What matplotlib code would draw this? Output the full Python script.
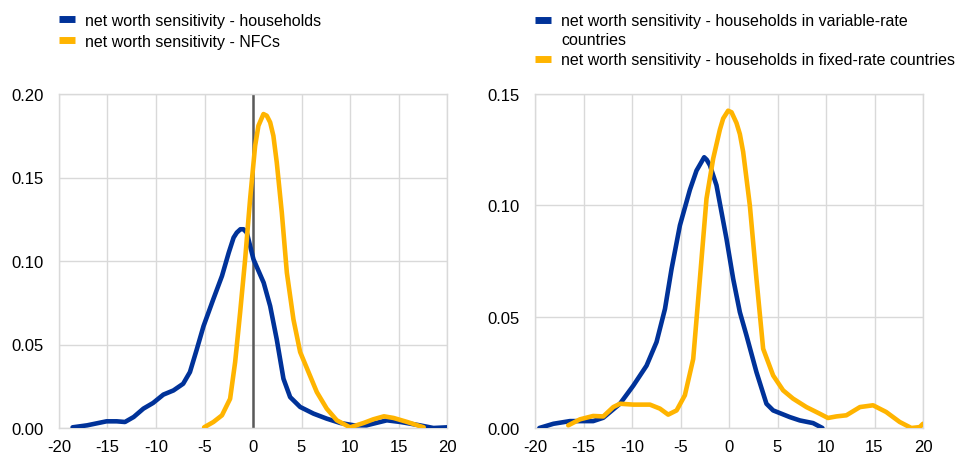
import matplotlib.pyplot as plt

# left panel: households vs NFCs
hh_x = [-18.6, -17.1, -15.1, -14.05, -13.2, -12.3, -11.3, -10.3, -9.24, -8.2, -7.2, -6.5,
        -5.8, -5.1, -4.1, -3.2, -2.5, -2.0, -1.67, -1.3, -0.98, -0.64, 0.05, 1.1, 1.77, 2.45,
        3.14, 3.83, 4.86, 6.24, 7.6, 9.0, 10.4, 11.7, 13.8, 15.2, 17.2, 18.6, 20.0]
hh_y = [0.0004, 0.0016, 0.004, 0.004, 0.0036, 0.0066, 0.0116, 0.015, 0.020, 0.0225, 0.0265,
        0.0335, 0.047, 0.061, 0.077, 0.091, 0.105, 0.114, 0.117, 0.119, 0.119, 0.117, 0.101,
        0.087, 0.073, 0.053, 0.0295, 0.0185, 0.0126, 0.0086, 0.0056, 0.003, 0.0016, 0.0016,
        0.0046, 0.0036, 0.0016, 0.0, 0.0004]

nfc_x = [-5.04, -4.08, -3.2, -2.36, -1.84, -1.33, -0.81, -0.3, 0.22, 0.56, 1.08, 1.42, 1.77,
         2.1, 2.45, 2.97, 3.49, 4.17, 4.86, 5.72, 6.58, 7.6, 8.64, 10.0, 11.4, 12.4, 13.5,
         14.5, 15.9, 17.6]
nfc_y = [0.0004, 0.0036, 0.0076, 0.0175, 0.0395, 0.069, 0.101, 0.137, 0.169, 0.181, 0.188,
         0.187, 0.183, 0.175, 0.159, 0.129, 0.093, 0.065, 0.0455, 0.0335, 0.0215, 0.0116,
         0.0046, 0.0004, 0.003, 0.0052, 0.007, 0.006, 0.0036, 0.0004]

# right panel: variable-rate vs fixed-rate countries
var_x = [-19.55, -18.1, -16.4, -14.0, -12.96, -11.24, -9.87, -8.5, -7.47, -6.6, -5.92, -5.06,
         -4.03, -3.35, -2.9, -2.56, -2.3, -1.97, -1.29, -0.26, 0.43, 1.12, 1.8, 2.83, 3.86,
         4.55, 6.27, 7.3, 8.67, 9.63]
var_y = [0.0, 0.0019, 0.0031, 0.0031, 0.0046, 0.0109, 0.019, 0.028, 0.0386, 0.0535, 0.0715,
         0.091, 0.107, 0.1156, 0.119, 0.1216, 0.1205, 0.118, 0.109, 0.085, 0.067, 0.052,
         0.0416, 0.0251, 0.0109, 0.0079, 0.0049, 0.0034, 0.0022, 0.0]

fix_x = [-16.57, -15.36, -14.0, -12.96, -11.93, -11.24, -9.87, -8.15, -7.12, -6.27, -5.4,
         -4.55, -3.69, -3.0, -2.32, -1.63, -0.94, -0.6, -0.09, 0.26, 0.77, 1.12, 1.46, 2.15,
         2.83, 3.52, 4.55, 5.58, 6.6, 7.98, 9.36, 10.2, 11.07, 12.1, 13.5, 14.85, 16.2, 17.6,
         18.8, 19.66, 20.0]
fix_y = [0.0012, 0.0039, 0.0054, 0.0052, 0.0094, 0.0109, 0.0105, 0.0105, 0.0087, 0.006,
         0.0079, 0.0147, 0.031, 0.067, 0.103, 0.121, 0.134, 0.139, 0.1425, 0.1418, 0.137,
         0.132, 0.124, 0.0999, 0.067, 0.0356, 0.0236, 0.0169, 0.0132, 0.0094, 0.0064, 0.0045,
         0.0052, 0.0057, 0.0094, 0.0102, 0.0072, 0.0027, 0.0, 0.0004, 0.0019]

xticks = [-20, -15, -10, -5, 0, 5, 10, 15, 20]
BLUE = '#003299'
YELLOW = '#FFB400'
GRID = '#d9d9d9'

plt.rcParams['font.family'] = ['Liberation Sans', 'DejaVu Sans']
plt.rcParams['font.size'] = 11.5

fig = plt.figure(figsize=(9.55, 4.56), dpi=100)
ax1 = fig.add_axes([59 / 955, 27 / 456, 388 / 955, 334 / 456])
ax2 = fig.add_axes([535 / 955, 27 / 456, 388 / 955, 334 / 456])


def style(ax, yticks):
    ax.set_xlim(-20, 20)
    ax.set_ylim(0, yticks[-1])
    ax.set_xticks(xticks)
    ax.set_xticklabels([str(t) for t in xticks])
    ax.set_yticks(yticks)
    ax.set_yticklabels(['%.2f' % t for t in yticks])
    ax.grid(True, color=GRID, linewidth=1)
    ax.set_axisbelow(True)
    for s in ax.spines.values():
        s.set_color(GRID)
        s.set_linewidth(1)
    ax.tick_params(length=0, colors='#000000', labelsize=12)
    ax.tick_params(axis='y', pad=11)
    ax.tick_params(axis='x', pad=8)


style(ax1, [0.0, 0.05, 0.10, 0.15, 0.20])
ax1.axvline(0, color='#595959', linewidth=1.8, zorder=2)
ax1.plot(hh_x, hh_y, color=BLUE, linewidth=3.3, solid_capstyle='round',
         solid_joinstyle='round', zorder=3, label='net worth sensitivity - households')
ax1.plot(nfc_x, nfc_y, color=YELLOW, linewidth=3.3, solid_capstyle='round',
         solid_joinstyle='round', zorder=4, label='net worth sensitivity - NFCs')

style(ax2, [0.0, 0.05, 0.10, 0.15])
ax2.plot(var_x, var_y, color=BLUE, linewidth=3.3, solid_capstyle='round',
         solid_joinstyle='round', zorder=3,
         label='net worth sensitivity - households in variable-rate\ncountries')
ax2.plot(fix_x, fix_y, color=YELLOW, linewidth=3.3, solid_capstyle='round',
         solid_joinstyle='round', zorder=4,
         label='net worth sensitivity - households in fixed-rate countries')

for ax, x0 in [(ax1, 59), (ax2, 535)]:
    leg = ax.legend(loc='upper left', bbox_to_anchor=(x0 / 955, 1 - 14 / 456),
                    bbox_transform=fig.transFigure, frameon=False, borderpad=0,
                    borderaxespad=0, handlelength=1.0, handletextpad=0.65,
                    labelspacing=0.35, fontsize=11.5)
    for line in leg.get_lines():
        line.set_linewidth(5)
        line.set_solid_capstyle('butt')
    for t in leg.get_texts():
        t.set_linespacing(1.3)
    if ax is ax2:
        # put the first handle next to the first line of its two-line label
        h = leg.get_lines()[0]
        h.set_ydata([y + 7 for y in h.get_ydata()])

fig.savefig('out.png', dpi=100)
